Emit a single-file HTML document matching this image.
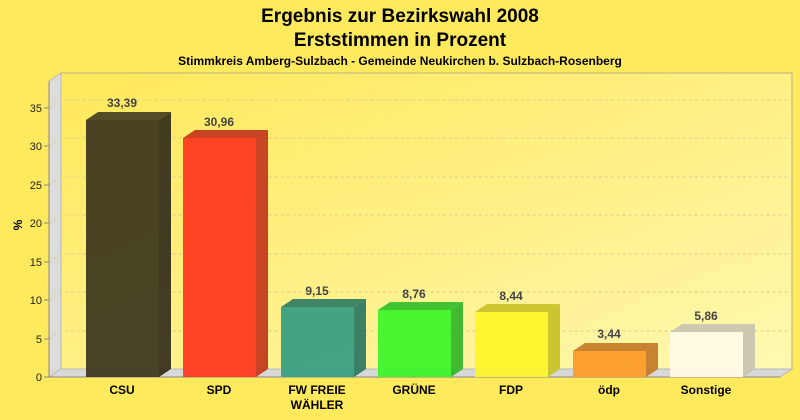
<!DOCTYPE html>
<html><head><meta charset="utf-8"><style>
html,body{margin:0;padding:0;background:#ffe95c;}
svg{display:block;font-family:"Liberation Sans",Arial,sans-serif;}
</style></head><body>
<svg width="800" height="420" viewBox="0 0 800 420" xmlns="http://www.w3.org/2000/svg">
<defs>
<linearGradient id="bg" x1="0" y1="0" x2="1" y2="1">
<stop offset="0" stop-color="#ffe85a"/><stop offset="1" stop-color="#fff8b0"/>
</linearGradient>
</defs>
<rect width="800" height="420" fill="#ffe95c"/>
<text x="400" y="22" text-anchor="middle" font-size="19" font-weight="bold">Ergebnis zur Bezirkswahl 2008</text>
<text x="400" y="46" text-anchor="middle" font-size="19" font-weight="bold">Erststimmen in Prozent</text>
<text x="400" y="65" text-anchor="middle" font-size="12" font-weight="bold">Stimmkreis Amberg-Sulzbach - Gemeinde Neukirchen b. Sulzbach-Rosenberg</text>
<!-- back wall -->
<rect x="61" y="73" width="731" height="296" fill="url(#bg)" stroke="#b8b08a" stroke-width="1"/>
<!-- left wall -->
<polygon points="49,81 61,73 61,369 49,377" fill="#dcdcdc" stroke="#b8b8b8"/>
<!-- floor -->
<polygon points="49,377 61,369 792,369 780,377" fill="#d8d8d8" stroke="#b8b8b8"/>
<g stroke="#d8cf90" stroke-dasharray="3,3" stroke-width="1" fill="none">
<polyline points="49,108 61,100 792,100"/>
<polyline points="49,146 61,138 792,138"/>
<polyline points="49,185 61,177 792,177"/>
<polyline points="49,223 61,215 792,215"/>
<polyline points="49,262 61,254 792,254"/>
<polyline points="49,300 61,292 792,292"/>
<polyline points="49,339 61,331 792,331"/>
</g>
<g stroke="#888" stroke-width="1">
<line x1="49" y1="81" x2="49" y2="377"/>
<line x1="49" y1="377" x2="780" y2="377"/>
<line x1="44" y1="108" x2="49" y2="108"/><line x1="44" y1="146" x2="49" y2="146"/>
<line x1="44" y1="185" x2="49" y2="185"/><line x1="44" y1="223" x2="49" y2="223"/>
<line x1="44" y1="262" x2="49" y2="262"/><line x1="44" y1="300" x2="49" y2="300"/>
<line x1="44" y1="339" x2="49" y2="339"/><line x1="44" y1="377" x2="49" y2="377"/>
</g>
<g font-size="11" text-anchor="end" fill="#222">
<text x="42" y="112">35</text><text x="42" y="150">30</text><text x="42" y="189">25</text>
<text x="42" y="227">20</text><text x="42" y="266">15</text><text x="42" y="304">10</text>
<text x="42" y="343">5</text><text x="42" y="381">0</text>
</g>
<text x="22" y="225" font-size="12" font-weight="bold" transform="rotate(-90 22 225)" text-anchor="middle">%</text>
<!-- bars: x, top -->
<g fill-opacity="0.95">
<polygon points="86,120 98,112 171,112 159,120" fill="#4a4423"/><polygon points="159,120 171,112 171,369 159,377" fill="#37321c"/><rect x="86" y="120" width="73" height="257" fill="#3f3a20"/>
<polygon points="183,138 195,130 268,130 256,138" fill="#c43a1e"/><polygon points="256,138 268,130 268,369 256,377" fill="#c53b1f"/><rect x="183" y="138" width="73" height="239" fill="#ff3a20"/>
<polygon points="281,307 293,299 366,299 354,307" fill="#357e64"/><polygon points="354,307 366,299 366,369 354,377" fill="#307a62"/><rect x="281" y="307" width="73" height="70" fill="#3a9f82"/>
<polygon points="378,310 390,302 463,302 451,310" fill="#38c02c"/><polygon points="451,310 463,302 463,369 451,377" fill="#37b62c"/><rect x="378" y="310" width="73" height="67" fill="#3ef42a"/>
<polygon points="475,312 487,304 560,304 548,312" fill="#cbc52a"/><polygon points="548,312 560,304 560,369 548,377" fill="#c9c22a"/><rect x="475" y="312" width="73" height="65" fill="#fdf62b"/>
<polygon points="573,351 585,343 658,343 646,351" fill="#c57d2a"/><polygon points="646,351 658,343 658,369 646,377" fill="#c47c2a"/><rect x="573" y="351" width="73" height="26" fill="#fd9b2b"/>
<polygon points="670,332 682,324 755,324 743,332" fill="#cbc7b2"/><polygon points="743,332 755,324 755,369 743,377" fill="#c9c5b0"/><rect x="670" y="332" width="73" height="45" fill="#fffbe6"/>
</g>
<g font-size="12" font-weight="bold" text-anchor="middle" fill="#444">
<text x="122" y="107">33,39</text><text x="219" y="126">30,96</text><text x="317" y="295">9,15</text>
<text x="414" y="298">8,76</text><text x="511" y="300">8,44</text><text x="609" y="338">3,44</text><text x="706" y="320">5,86</text>
</g>
<g font-size="12" font-weight="bold" text-anchor="middle" fill="#000">
<text x="122" y="394">CSU</text><text x="219" y="394">SPD</text><text x="317" y="394">FW FREIE</text><text x="317" y="409">WÄHLER</text>
<text x="414" y="394">GRÜNE</text><text x="511" y="394">FDP</text><text x="609" y="394">ödp</text><text x="706" y="394">Sonstige</text>
</g>
</svg>
</body></html>
